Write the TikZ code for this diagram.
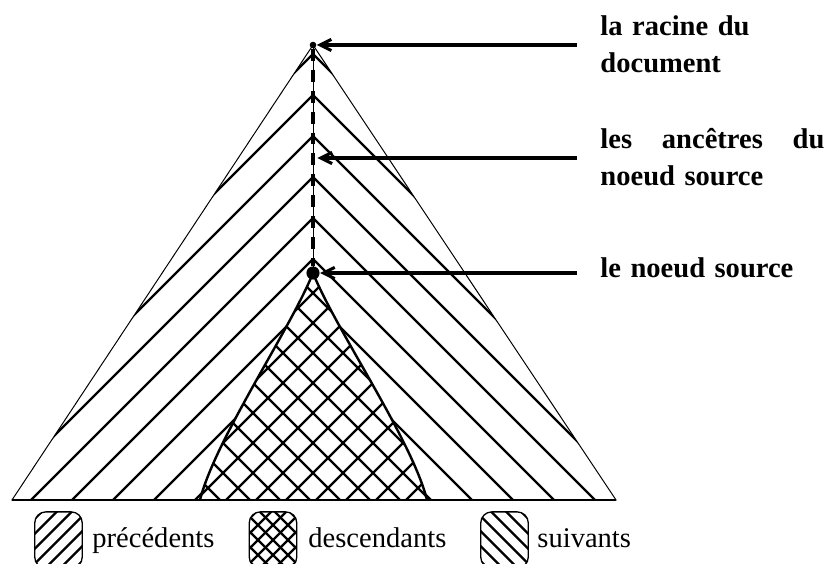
\documentclass[tikz,border=0pt]{standalone}
\usepackage{fontspec}
\setmainfont{Liberation Serif}
\usetikzlibrary{arrows.meta, calc, backgrounds}
\tikzset{outline/.style={line width=0.45pt},hatch/.style={line width=1.1pt},rootdot/.style={circle, fill=black, inner sep=0pt, minimum size=3pt},srcdot/.style={circle, fill=black, inner sep=0pt, minimum size=6pt},ancpt/.style={inner sep=0pt, minimum size=3.6pt},pointer/.style={-{Straight Barb[length=1.8mm, width=1.8mm]}, line width=1.4pt},lbl/.style={font=\fontsize{13}{16.8}\selectfont\bfseries, inner sep=0pt, text width=102pt, align=left},legtxt/.style={font=\fontsize{13}{16}\selectfont, inner sep=0pt, anchor=base west},legbox/.style={draw, line width=0.6pt, rounded corners=5pt, minimum width=0.76cm, minimum height=0.9cm}}

\begin{document}
\begin{tikzpicture}[x=0.016cm, y=-0.016cm,
   axisdash/.style={line width=2.2pt, dash pattern=on 5.45pt off 4.09pt},
   hatchne/.style={path picture={\foreach \d in {-60,-45,...,60}
      \draw[hatch] ($(path picture bounding box.center)+(\d-60,60)$) -- ++(120,-120);}},
   hatchnw/.style={path picture={\foreach \d in {-60,-45,...,60}
      \draw[hatch] ($(path picture bounding box.center)+(\d-60,-60)$) -- ++(120,120);}},
   hatchx/.style={path picture={\foreach \d in {-60,-45,...,60} {
      \draw[hatch] ($(path picture bounding box.center)+(\d-60,60)$) -- ++(120,-120);
      \draw[hatch] ($(path picture bounding box.center)+(\d-60,-60)$) -- ++(120,120);}}}]
  \useasboundingbox (0,0) rectangle (828,564);

  % points on the axis
  \node[rootdot] (root) at (313,45) {};
  \node[ancpt] (anc) at (313,158) {};
  \node[srcdot] (src) at (313,273) {};

  % corners of the tree
  \coordinate (left) at (12,500);
  \coordinate (right) at (616,500);
  \coordinate (dleft) at (200,500);
  \coordinate (dright) at (427,500);

  \begin{scope}[on background layer]
    % précédents
    \begin{scope}
      \clip (root.center) -- (left) -- (dleft) .. controls (215,440) and (290,330) .. (src.center) -- cycle;
      \foreach \c in {54,95,...,464} \draw[hatch] (313,\c) -- ++(-420,420);
    \end{scope}
    % suivants
    \begin{scope}
      \clip (root.center) -- (right) -- (dright) .. controls (412,440) and (336,330) .. (src.center) -- cycle;
      \foreach \c in {54,95,...,464} \draw[hatch] (313,\c) -- ++(420,420);
    \end{scope}
    % descendants
    \begin{scope}
      \clip (src.center) .. controls (290,330) and (215,440) .. (dleft) -- (dright) .. controls (412,440) and (336,330) .. (src.center) -- cycle;
      \foreach \c in {173,203,...,623} {
        \draw[hatch] (163,\c+150) -- (463,\c-150);
        \draw[hatch] (163,\c-150) -- (463,\c+150);
      }
    \end{scope}
    \draw[outline] (root.center) -- (left) -- (right) -- cycle;
    \draw[line width=0.7pt] (left) -- (right);
    \draw[hatch] (src.center) .. controls (290,330) and (215,440) .. (dleft);
    \draw[hatch] (src.center) .. controls (336,330) and (412,440) .. (dright);
    \draw[outline] (root.center) -- (src.center);
  \end{scope}

  \draw[axisdash] (root) -- (src);

  % labels on the right
  \coordinate (root_tail) at (577,45);
  \coordinate (anc_tail) at (577,158);
  \coordinate (src_tail) at (577,273);
  \draw[pointer] (root_tail) -- (root);
  \draw[pointer] (anc_tail) -- (anc);
  \draw[pointer] (src_tail) -- (src);
  \node[lbl, anchor=north west] (root_lbl) at (600,15.5) {la racine du\\document};
  \node[lbl, anchor=north west] (anc_lbl) at (600,128) {\makebox[102pt]{les\hfill ancêtres\hfill du}\\noeud source};
  \node[lbl, anchor=north west] (src_lbl) at (600,257.5) {le noeud source};

  % legend
  \node[legbox, hatchne] (leg_prec) at (58.5,540) {};
  \node[legbox, hatchx] (leg_desc) at (273,540) {};
  \node[legbox, hatchnw] (leg_suiv) at (504.5,540) {};
  \node[legtxt] (prec_txt) at (92,547) {précédents};
  \node[legtxt] (desc_txt) at (308,547) {descendants};
  \node[legtxt] (suiv_txt) at (537,547) {suivants};
\end{tikzpicture}
\end{document}
